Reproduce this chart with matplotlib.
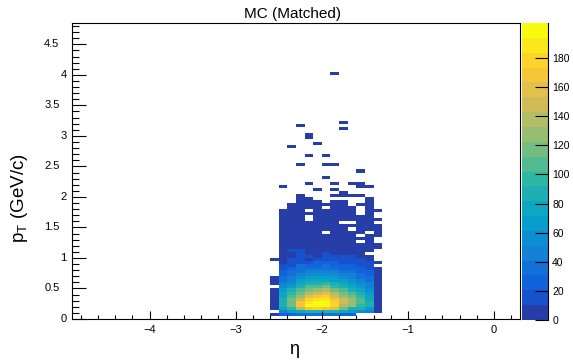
import numpy as np
import matplotlib
matplotlib.use("Agg")
import matplotlib.pyplot as plt
from matplotlib.colors import LinearSegmentedColormap, ListedColormap, BoundaryNorm
from matplotlib.transforms import blended_transform_factory, offset_copy

plt.rcParams["font.family"] = ["Liberation Sans", "DejaVu Sans"]
plt.rcParams["mathtext.fontset"] = "custom"
plt.rcParams["mathtext.rm"] = "Liberation Sans"
plt.rcParams["mathtext.it"] = "Liberation Sans"
plt.rcParams["mathtext.default"] = "regular"

TITLE = "MC (Matched)"
X_LABEL = "\u03b7"
Y_LABEL = r"$p_{T}$ (GeV/c)"

# TH2 binning: 0.1 in eta, 0.05 GeV/c in pT
ETA_NBINS, ETA_LO, ETA_HI = 13, -2.6, -1.3
PT_NBINS, PT_LO, PT_HI = 81, 0.0, 4.05

# frame ranges
X_RANGE = (-4.9, 0.3)
Y_RANGE = (0.0, 4.85)
X_TICKS = [-4, -3, -2, -1, 0]
Y_TICKS = [0, 0.5, 1, 1.5, 2, 2.5, 3, 3.5, 4, 4.5]
Z_MAX = 204.0
N_CONTOURS = 20
Z_TICKS = [0, 20, 40, 60, 80, 100, 120, 140, 160, 180]

# bin contents as colour band codes (top row pT=4.00 first, bottom pT=0.00 last)
# '.' = empty, '0'..'9','a'..'j' = band 0..19 of the 20-level palette
BAND_CODES = "0123456789abcdefghij"
HIST_ROWS = [
    ".......0.....",  # 4.00
] + ["............."] * 15 + [  # 3.95 .. 3.25
    "........0....",  # 3.20
    "...0.........",  # 3.15
    "........0....",  # 3.10
    ".............",  # 3.05
    "....0........",  # 3.00
    "....0........",  # 2.95
    ".............",  # 2.90
    ".....0.......",  # 2.85
    "..0..........",  # 2.80
    ".............",  # 2.75
    ".............",  # 2.70
    "....0.0......",  # 2.65
    ".............",  # 2.60
    ".............",  # 2.55
    "...0..00.....",  # 2.50
    ".............",  # 2.45
    "..........0..",  # 2.40
    ".............",  # 2.35
    "......0......",  # 2.30
    ".............",  # 2.25
    "....0..0.00..",  # 2.20
    ".0........00.",  # 2.15
    ".....0.0.....",  # 2.10
    "........0....",  # 2.05
    "...0...0000..",  # 2.00
    "...00......0.",  # 1.95
    "...000.00..0.",  # 1.90
    "..0000000.00.",  # 1.85
    "..0000.000.0.",  # 1.80
    ".000.00000.00",  # 1.75
    ".000000000.0.",  # 1.70
    ".000.0000000.",  # 1.65
    ".000.00000000",  # 1.60
    ".0000000..00.",  # 1.55
    ".000000000000",  # 1.50
    ".00000000.000",  # 1.45
    ".00000.0000.0",  # 1.40
    ".000000000.00",  # 1.35
    ".00000000000.",  # 1.30
    ".000000000.0.",  # 1.25
    ".000000000000",  # 1.20
    ".000000000000",  # 1.15
    ".01100000000.",  # 1.10
    ".0010010000..",  # 1.05
    ".00110111100.",  # 1.00
    "001101111110.",  # 0.95
    ".011122211110",  # 0.90
    ".11322322211.",  # 0.85
    ".123333322210",  # 0.80
    ".233444433220",  # 0.75
    ".234555544320",  # 0.70
    "0345666654330",  # 0.65
    "0346777665430",  # 0.60
    "0457889876540",  # 0.55
    ".568aab987640",  # 0.50
    "068abcdba8750",  # 0.45
    "079bdefdba860",  # 0.40
    "07acfghecb970",  # 0.35
    "08behiigeca70",  # 0.30
    "08bgijjheca80",  # 0.25
    "08bgjjjhdc980",  # 0.20
    "079dghgfb8860",  # 0.15
    ".467888876540",  # 0.10
    "0223333322...",  # 0.05
    ".............",  # 0.00
]

# ROOT kBird palette stops
BIRD_R = [0.2082, 0.0592, 0.0780, 0.0232, 0.1802, 0.5301, 0.8186, 0.9956, 0.9764]
BIRD_G = [0.1664, 0.3599, 0.5041, 0.6419, 0.7178, 0.7492, 0.7328, 0.7862, 0.9832]
BIRD_B = [0.5293, 0.8684, 0.8385, 0.7914, 0.6425, 0.4662, 0.3499, 0.1968, 0.0539]


def decode(rows):
    band_w = Z_MAX / N_CONTOURS
    z = np.zeros((len(rows), len(rows[0])))
    for i, row in enumerate(rows):
        for j, ch in enumerate(row):
            if ch != ".":
                z[i, j] = (BAND_CODES.index(ch) + 0.5) * band_w
    return z[::-1]  # bottom row first


def bird_contours():
    stops = np.linspace(0, 1, len(BIRD_R))
    bird = LinearSegmentedColormap.from_list(
        "bird", list(zip(stops, zip(BIRD_R, BIRD_G, BIRD_B))), N=255)
    # same colour pick as ROOT's THistPainter for N contours
    idx = [int((k + 0.99) * 255 / N_CONTOURS) for k in range(N_CONTOURS)]
    return ListedColormap([bird(min(i, 254)) for i in idx])


assert len(HIST_ROWS) == PT_NBINS
z = np.ma.masked_equal(decode(HIST_ROWS), 0)
x_edges = np.linspace(ETA_LO, ETA_HI, ETA_NBINS + 1)
y_edges = np.linspace(PT_LO, PT_HI, PT_NBINS + 1)

W, H = 573, 360
fig = plt.figure(figsize=(W / 100, H / 100), dpi=100)
ax = fig.add_axes([72 / W, 1 - 319 / H, 448 / W, 296 / H])
cax = fig.add_axes([522 / W, 1 - 320 / H, 26 / W, 297 / H])

cmap = bird_contours()
norm = BoundaryNorm(np.linspace(0, Z_MAX, N_CONTOURS + 1), cmap.N)
mesh = ax.pcolormesh(x_edges, y_edges, z, cmap=cmap, norm=norm)

ax.set_xlim(*X_RANGE)
ax.set_ylim(*Y_RANGE)
for s in ax.spines.values():
    s.set_linewidth(0.8)

ax.set_xticks(X_TICKS)
ax.set_xticks(np.arange(-4.8, 0.31, 0.2), minor=True)
ax.set_yticks(Y_TICKS)
ax.set_yticks(np.arange(0, 4.85, 0.1), minor=True)
ax.tick_params(axis="x", which="major", direction="in", length=6, width=0.8,
               labelsize=8, pad=4)
ax.tick_params(axis="x", which="minor", direction="in", length=3, width=0.8)
ax.tick_params(axis="y", which="major", direction="in", length=10, width=0.8,
               labelleft=False)
ax.tick_params(axis="y", which="minor", direction="in", length=5, width=0.8)
ax.set_xticklabels(["\u22124", "\u22123", "\u22122", "\u22121", "0"])

# y labels: ROOT puts the integer ones further right than the x.5 ones
trans = blended_transform_factory(ax.transAxes, ax.transData)
for v in Y_TICKS:
    lab = f"{v:g}"
    off = -4 if float(v).is_integer() else -9
    ax.text(0, v, lab, transform=offset_copy(trans, fig=fig, x=off, y=0,
                                             units="points"),
            ha="right", va="center", fontsize=8)

fig.text(294 / W, 1 - 350 / H, X_LABEL, ha="center", va="center", fontsize=13)
fig.text(20 / W, 1 - 198 / H, Y_LABEL, ha="center", va="center",
         fontsize=13.5, rotation=90)
fig.text(293 / W, 1 - 14 / H, TITLE, ha="center", va="center", fontsize=11)

cb = fig.colorbar(mesh, cax=cax)
cb.outline.set_visible(False)
cb.set_ticks(Z_TICKS)
cb.set_ticklabels([str(t) for t in Z_TICKS])
cax.minorticks_off()
cax.tick_params(axis="y", direction="in", length=9.5, width=0.8,
                labelsize=7.5, pad=3, right=True, left=False)
cax.plot([1, 1], [0, 1], transform=cax.transAxes, color="black", lw=0.8,
         clip_on=False)

fig.savefig("out.png", dpi=100)
